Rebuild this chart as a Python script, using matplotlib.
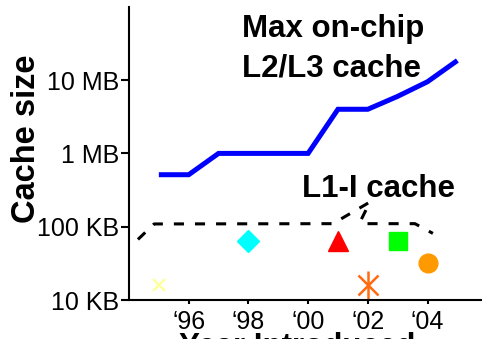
import matplotlib
matplotlib.use("Agg")
import matplotlib.pyplot as plt

plt.rcParams['font.family'] = ['Liberation Sans', 'DejaVu Sans']

# Max on-chip L2/L3 cache (KB)
l2_years = [1995, 1996, 1997, 1998, 1999, 2000, 2001, 2002, 2003, 2004, 2005]
l2_sizes = [512, 512, 1000, 1000, 1000, 1000, 4000, 4000, 6000, 9500, 18500]

# L1-I cache envelope (hand-drawn dashed curve, KB)
l1_env_x = [1994.30, 1994.84, 2000.83, 2002.07, 2001.74, 2001.87, 2003.58, 2004.18]
l1_env_y = [67, 109, 110, 217, 116, 110, 110, 81]

# L1-I cache per processor (KB)
proc_years = [1995, 1998, 2001, 2002, 2003, 2004]
proc_sizes = [16, 64, 64, 16, 64, 32]

ytick_vals = [10, 100, 1000, 10000]
ytick_labels = ['10 KB', '100 KB', '1 MB', '10 MB']
xtick_vals = [1996, 1998, 2000, 2002, 2004]
xtick_labels = ['\u201896', '\u201898', '\u201800', '\u201802', '\u201804']

W, H = 482, 339
fig = plt.figure(figsize=(W / 100, H / 100), dpi=100)
ax = fig.add_axes([129 / W, (H - 300) / H, (487.2 - 129) / W, (300 - 6.8) / H])
ax.set_yscale('log')
ax.set_xlim(1994, 2006)
ax.set_ylim(10, 100000)

ax.plot(l2_years, l2_sizes, color='#0000FF', lw=3.6, solid_capstyle='butt',
        solid_joinstyle='miter', clip_on=False)
ax.plot(l1_env_x, l1_env_y, color='black', lw=2.2, linestyle=(0, (3.3, 3.6)),
        dash_capstyle='butt')

# markers
ax.plot(proc_years[0], proc_sizes[0], marker='x', ms=9, mew=1.6,
        color='#FFFF99', ls='none')
ax.plot(proc_years[1], proc_sizes[1], marker='D', ms=10.7, color='#00FFFF',
        mec='#00FFFF', ls='none')
ax.plot(proc_years[2], proc_sizes[2], marker='^', ms=14.5, color='#FF0000',
        mec='#FF0000', ls='none')
ax.plot(proc_years[3], proc_sizes[3], marker='x', ms=15, mew=1.8,
        color='#FF6A10', ls='none')
ax.plot(proc_years[3], proc_sizes[3], marker='|', ms=20, mew=1.8,
        color='#FF6A10', ls='none')
ax.plot(proc_years[4], proc_sizes[4], marker='s', ms=13.5, color='#00FF00',
        mec='#00FF00', ls='none')
ax.plot(proc_years[5], proc_sizes[5], marker='o', ms=13.5, color='#FF9900',
        mec='#FF9900', ls='none')

for s in ['top', 'right']:
    ax.spines[s].set_visible(False)
for s in ['left', 'bottom']:
    ax.spines[s].set_linewidth(1.5)

ax.set_yticks(ytick_vals)
ax.set_yticklabels(ytick_labels)
ax.yaxis.set_minor_locator(matplotlib.ticker.NullLocator())
ax.set_xticks(xtick_vals)
ax.set_xticklabels(xtick_labels)
ax.tick_params(axis='y', direction='out', length=6, width=1.5, pad=1, labelsize=18)
ax.tick_params(axis='x', direction='out', length=3, width=1.5, pad=4, labelsize=18)

fig.text(242 / W, 1 - 36.7 / H, 'Max on-chip', fontsize=22.5, fontweight='bold',
         ha='left', va='baseline')
fig.text(242 / W, 1 - 76.7 / H, 'L2/L3 cache', fontsize=22.5, fontweight='bold',
         ha='left', va='baseline')
fig.text(302 / W, 1 - 197.3 / H, 'L1-I cache', fontsize=22.5, fontweight='bold',
         ha='left', va='baseline')
fig.text(27 / W, 1 - 139 / H, 'Cache size', fontsize=23.5, fontweight='bold',
         rotation=90, ha='center', va='center')
fig.text(297 / W, 1 - 332 / H, 'Year Introduced', fontsize=22.5, fontweight='bold',
         ha='center', va='top')

fig.savefig('out.png', dpi=100)
